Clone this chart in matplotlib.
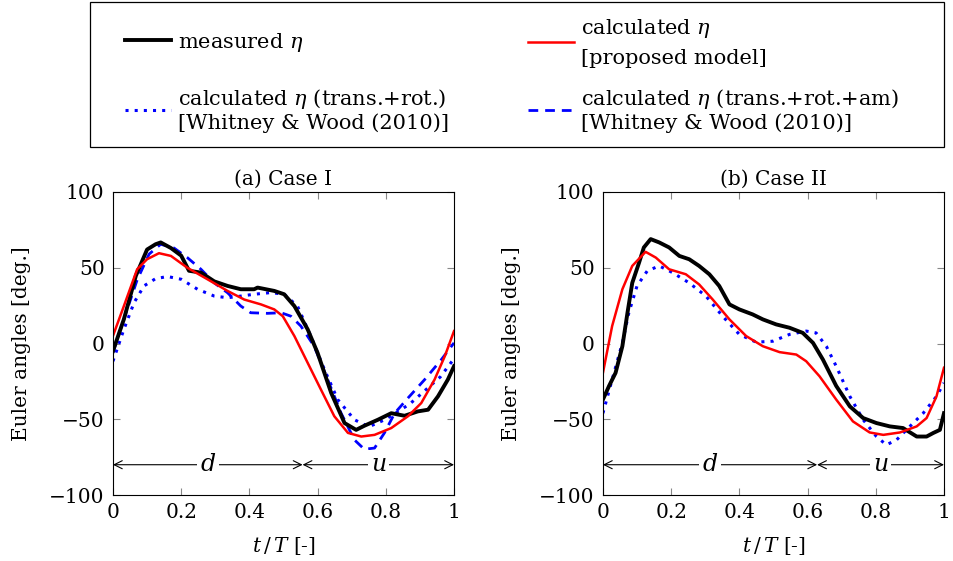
import numpy as np
import matplotlib
matplotlib.use('Agg')
import matplotlib.pyplot as plt
from matplotlib.lines import Line2D
from matplotlib.patches import Rectangle

plt.rcParams['font.family'] = 'DejaVu Serif'
plt.rcParams['mathtext.fontset'] = 'dejavuserif'
plt.rcParams['font.size'] = 14.5

# Case I - measured
t1_meas = [0, 0.032, 0.067, 0.10, 0.125, 0.14, 0.17, 0.2, 0.223, 0.258, 0.297, 0.336, 0.375, 0.414,
           0.424, 0.473, 0.502, 0.532, 0.571, 0.6, 0.64, 0.679, 0.713, 0.737, 0.777, 0.816, 0.855,
           0.894, 0.924, 0.953, 0.982, 1.0]
e1_meas = [-5, 16, 44.6, 62, 65.5, 66.7, 63, 58, 48, 46.8, 41, 38, 35.8, 35.8,
           36.9, 34.7, 32.5, 24.7, 9.3, -6.2, -32.7, -52.5, -57, -54.3, -50.3, -46, -47.7,
           -44.8, -43.7, -34.9, -23.8, -15]
# Case I - proposed model
t1_model = [0, 0.032, 0.071, 0.1, 0.135, 0.17, 0.218, 0.277, 0.336, 0.385, 0.434, 0.473, 0.498,
            0.532, 0.571, 0.61, 0.649, 0.689, 0.728, 0.767, 0.816, 0.865, 0.904, 0.943, 0.973, 1.0]
e1_model = [5, 24.7, 49, 55.6, 59.6, 57.8, 50, 42.4, 34.7, 29, 25.8, 22.5, 18,
            4.9, -12.8, -30.5, -48, -59, -61.4, -60.3, -55.8, -48, -39.3, -23.8, -8.4, 8.2]
# Case I - trans.+rot.
t1_tr = [0, 0.032, 0.062, 0.091, 0.125, 0.16, 0.2, 0.248, 0.297, 0.336, 0.375, 0.414, 0.463,
         0.502, 0.541, 0.58, 0.62, 0.659, 0.708, 0.75, 0.8, 0.82, 0.87, 0.92, 0.96, 1.0]
e1_tr = [-11.7, 9.3, 27, 38, 42.8, 44.2, 42.4, 35.8, 31.3, 30.2, 31.3, 32.5, 33.6,
         32.5, 24.7, 4.9, -17.2, -37, -50.3, -55, -50, -47, -40, -30, -22, -10]
# Case I - trans.+rot.+am
t1_tra = [0, 0.032, 0.071, 0.106, 0.14, 0.179, 0.218, 0.258, 0.297, 0.336, 0.375, 0.404, 0.453,
          0.493, 0.522, 0.551, 0.59, 0.63, 0.669, 0.708, 0.737, 0.767, 0.796, 0.826, 0.865,
          0.914, 0.963, 1.0]
e1_tra = [-6, 16, 42, 59, 65.5, 63, 56.7, 49, 40, 33.5, 24.7, 20.3, 19.9,
          20.3, 18, 11.5, -1.8, -24, -46, -63.6, -69.8, -69, -59, -46, -36,
          -23.8, -10.6, 0.4]

# Case II - measured
t2_meas = [0, 0.018, 0.037, 0.057, 0.072, 0.086, 0.106, 0.12, 0.14, 0.165, 0.194, 0.224, 0.253,
           0.282, 0.312, 0.341, 0.371, 0.4, 0.439, 0.469, 0.508, 0.547, 0.586, 0.616, 0.645,
           0.684, 0.724, 0.763, 0.802, 0.841, 0.88, 0.92, 0.949, 0.969, 0.988, 1.0]
e2_meas = [-37, -28, -19.4, -1.8, 20.3, 40, 53.4, 63.4, 68.9, 66.7, 63.4, 57.8, 55.6,
           51.2, 45.7, 38, 25.8, 22.5, 19.2, 15.9, 12.6, 10.4, 7, 0.4, -10.6,
           -28, -41.5, -49.2, -52.5, -54.7, -55.8, -61.4, -61.4, -59, -57, -46]
# Case II - proposed model
t2_model = [0, 0.027, 0.057, 0.086, 0.125, 0.155, 0.194, 0.243, 0.282, 0.322, 0.371, 0.42, 0.469,
            0.518, 0.567, 0.596, 0.635, 0.684, 0.733, 0.782, 0.822, 0.871, 0.92, 0.949, 0.978, 1.0]
e2_model = [-19.4, 11.5, 35.8, 51.2, 60.5, 56.7, 49, 45.7, 39, 29, 15.9, 4.9, -1.8,
            -5.7, -7.3, -11.7, -21.6, -37, -51.4, -58.7, -60.3, -58.7, -54.7, -49.2, -34.9, -16]
# Case II - trans.+rot.
t2_tr = [0, 0.027, 0.057, 0.076, 0.1, 0.13, 0.165, 0.204, 0.253, 0.302, 0.351, 0.4, 0.449,
         0.498, 0.547, 0.596, 0.625, 0.655, 0.684, 0.724, 0.763, 0.802, 0.831, 0.861, 0.9,
         0.939, 0.978, 1.0]
e2_tr = [-46, -23.8, 0.4, 20.3, 38, 47.9, 51.2, 46.8, 40, 31.3, 18, 6, 0.9,
         1.5, 6, 8.2, 7, -1.8, -15, -34.9, -50.3, -61.4, -66.9, -63.6, -54.7,
         -46, -34.9, -26]

split1 = 0.556
split2 = 0.628

W, H = 954, 561
fig = plt.figure(figsize=(W / 100, H / 100), dpi=100)
ax1 = fig.add_axes([0.1184, 0.1176, 0.3575, 0.5402])
ax2 = fig.add_axes([0.632, 0.1176, 0.3575, 0.5402])


def style_axes(ax, title):
    ax.set_xlim(0, 1)
    ax.set_ylim(-100, 100)
    ax.set_xticks([0, 0.2, 0.4, 0.6, 0.8, 1])
    ax.set_xticklabels(['0', '0.2', '0.4', '0.6', '0.8', '1'])
    ax.set_yticks([-100, -50, 0, 50, 100])
    ax.set_yticklabels(['\u2212100', '\u221250', '0', '50', '100'])
    ax.tick_params(direction='in', top=True, right=True, length=5, width=0.8,
                   color='#888888', labelsize=14.5, pad=6)
    for s in ax.spines.values():
        s.set_linewidth(0.8)
    ax.set_title(title, fontsize=14.5, pad=5)
    ax.set_xlabel('$t\\,/\\,T$ [-]', fontsize=14.5, labelpad=9)
    ax.set_ylabel('Euler angles [deg.]', fontsize=14.5, labelpad=13)


def phase_arrows(ax, split):
    y = -80
    ax.annotate('', xy=(0, y), xytext=(split, y),
                arrowprops=dict(arrowstyle='<->', lw=0.8, color='black', shrinkA=0, shrinkB=0))
    ax.annotate('', xy=(split, y), xytext=(1, y),
                arrowprops=dict(arrowstyle='<->', lw=0.8, color='black', shrinkA=0, shrinkB=0))
    ax.text(split / 2, y, '$d$', fontsize=17, ha='center', va='center',
            bbox=dict(facecolor='white', edgecolor='none', pad=2))
    ax.text((split + 1) / 2, y, '$u$', fontsize=17, ha='center', va='center',
            bbox=dict(facecolor='white', edgecolor='none', pad=2))


ax1.plot(t1_tr, e1_tr, color='blue', ls=(0, (1, 2)), lw=2.2)
ax1.plot(t1_tra, e1_tra, color='blue', ls=(0, (3.5, 2.5)), lw=2)
ax1.plot(t1_meas, e1_meas, color='black', lw=2.8)
ax1.plot(t1_model, e1_model, color='red', lw=1.8)
style_axes(ax1, '(a) Case I')
phase_arrows(ax1, split1)

ax2.plot(t2_tr, e2_tr, color='blue', ls=(0, (1, 2)), lw=2.2)
ax2.plot(t2_meas, e2_meas, color='black', lw=2.8)
ax2.plot(t2_model, e2_model, color='red', lw=1.8)
style_axes(ax2, '(b) Case II')
phase_arrows(ax2, split2)

# legend: one entry per slot so rows line up like the original, plus a shared frame
entries = [
    (Line2D([], [], color='black', lw=2.8), 'measured $\\eta$', 125, 42, 1.2),
    (Line2D([], [], color='red', lw=1.8), 'calculated $\\eta$\n[proposed model]', 528, 42, 1.6),
    (Line2D([], [], color='blue', ls=(0, (1, 2)), lw=2.2),
     'calculated $\\eta$ (trans.+rot.)\n[Whitney & Wood (2010)]', 125, 110, 1.2),
    (Line2D([], [], color='blue', ls=(0, (3.5, 2.5)), lw=2),
     'calculated $\\eta$ (trans.+rot.+am)\n[Whitney & Wood (2010)]', 528, 110, 1.2),
]
for h, lab, px, py, lsp in entries:
    lg = fig.legend([h], [lab], loc='center left', bbox_to_anchor=(px / W, 1 - py / H),
                    frameon=False, fontsize=15, handlelength=2.2, handletextpad=0.35,
                    borderpad=0, borderaxespad=0)
    lg.get_texts()[0].set_linespacing(lsp)

fig.add_artist(Rectangle((90 / W, 1 - 147 / H), 854 / W, 145 / H, transform=fig.transFigure,
                         fill=False, edgecolor='black', lw=0.9))

fig.savefig('out.png', dpi=100)
